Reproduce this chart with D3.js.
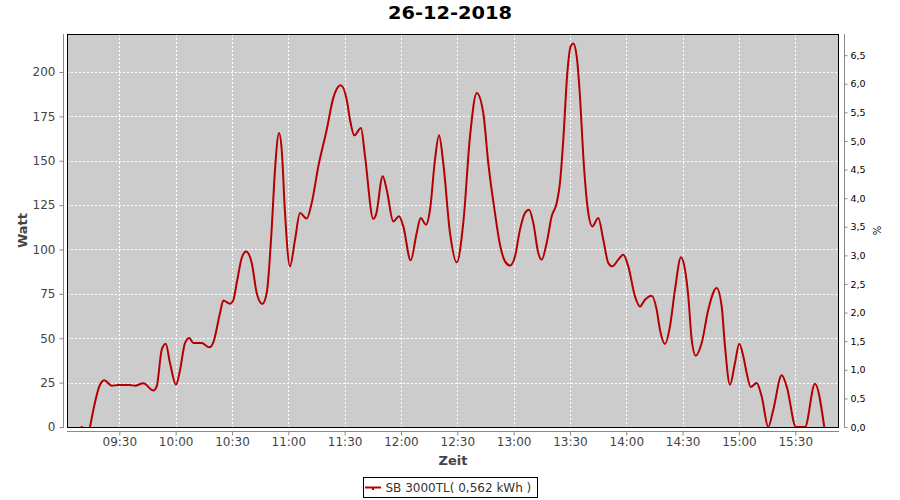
<!DOCTYPE html>
<html><head><meta charset="utf-8">
<script src="https://cdn.jsdelivr.net/npm/d3@7"></script>
<style>body{margin:0;background:#fff}svg{display:block}</style>
</head><body>
<script>
const title = "26-12-2018";
const seriesName = "SB 3000TL( 0,562 kWh )";
const times = ["09:10:00",null,"09:14:24","09:19:43","09:22:01","09:25:57","09:29:19","09:35:42","09:38:22","09:42:47","09:48:07","09:49:55","09:52:35","09:54:43","09:57:00","10:00:11","10:02:19","10:04:59","10:07:17","10:09:25","10:13:53","10:17:56","10:20:04","10:23:38","10:25:23","10:28:57","10:30:43","10:32:31","10:35:11","10:37:28","10:40:31","10:43:10","10:46:09","10:48:30","10:51:10","10:52:55","10:55:03","10:56:29","10:58:14","11:00:54","11:03:34","11:06:14","11:09:48","11:12:28","11:15:59","11:20:27","11:23:58","11:27:54","11:31:06","11:32:52","11:35:09","11:38:43","11:40:51","11:45:16","11:46:42","11:50:16","11:52:24","11:55:55","11:58:57","12:01:14","12:05:11","12:08:22","12:10:30","12:13:20","12:15:28","12:18:07","12:20:15","12:22:32","12:26:07","12:29:41","12:33:11","12:36:46","12:40:20","12:43:50","12:46:30","12:50:04","12:52:44","12:55:24","12:58:04","13:00:43","13:03:23","13:06:03","13:08:11","13:10:28","13:13:08","13:14:56","13:17:36","13:20:16","13:22:56","13:24:41","13:26:27","13:28:35","13:30:23","13:31:46","13:33:35","13:35:20","13:37:06","13:39:46","13:41:53","13:45:05","13:47:45","13:50:25","13:52:32","13:55:44","13:58:24","14:01:04","14:04:38","14:07:17","14:09:57","14:13:31","14:16:11","14:17:56","14:20:37","14:23:16","14:25:56","14:29:08","14:31:16","14:33:01","14:34:50","14:36:58","14:40:09","14:43:40","14:48:08","14:50:48","14:52:34","14:55:13","14:57:53","15:00:11","15:02:19","15:04:07","15:06:15","15:09:26","15:12:07","15:15:37","15:18:17","15:22:45","15:25:25","15:30:22","15:35:10","15:40:29","15:45:26"];
const watts = [0,null,0,23.8,26.3,23.3,23.6,23.6,23.3,24.6,20.6,22.9,43.5,46.9,36,23.8,32,47.3,50.1,47.3,47.3,44.9,47.7,64.2,71.2,69.5,71.5,81.1,95.2,98.9,92.4,75.5,69.3,75.5,112,145,165.6,156.2,120.6,90.5,105.5,120.6,117.4,126.2,146.8,167.5,185.4,192.5,184.4,173.1,164.3,168.5,152.5,117.2,119.6,141.2,133.7,115.8,118.7,113,93.9,109.3,117.7,114,122.4,150.6,164.3,148.7,109.3,92.7,115,163.7,188.2,176.9,148.7,120.5,102.7,93.3,91,96.1,111.2,120.6,122.4,115,98,94.3,103.7,118.7,126.2,137.5,161.9,199.4,214.4,216,208.8,186.3,152.5,120.6,113,117.7,105.5,92.4,90.5,94.3,97.1,90.5,73.6,67.9,71.7,74,66.1,54.8,46.8,56.7,77.4,95.6,88.6,73.6,49.2,40.2,47.3,66.1,78.3,67.9,45.4,23.8,36.1,46.9,39.8,30.4,22.5,24.8,17.2,0,9.7,29.1,22.9,0,0,24.4,0];
const xTickLabels = ["09:30","10:00","10:30","11:00","11:30","12:00","12:30","13:00","13:30","14:00","14:30","15:00","15:30"];
const yTicksLeft = [0,25,50,75,100,125,150,175,200];
const yTicksRight = [0,0.5,1,1.5,2,2.5,3,3.5,4,4.5,5,5.5,6,6.5];
const xDomain = ["09:02:08","15:53:17"];
const leftMax = 221.4, rightMax = 6.87;

const W = 900, H = 500;
const m = {left:67, right:839, top:34, bottom:427};
const parse = d3.timeParse("%H:%M:%S");
const parseHM = d3.timeParse("%H:%M");
const data = times.map((t,i)=>({t: t? parse(t): null, v: watts[i]}));

const svg = d3.select("body").append("svg").attr("width",W).attr("height",H);
const x = d3.scaleTime().domain(xDomain.map(parse)).range([m.left, m.right]);
const y = d3.scaleLinear().domain([0,leftMax]).range([m.bottom, m.top]);
const y2 = d3.scaleLinear().domain([0,rightMax]).range([m.bottom, m.top]);

// plot background
svg.append("rect").attr("x",m.left).attr("y",m.top).attr("width",m.right-m.left).attr("height",m.bottom-m.top).attr("fill","#cccccc");

// grid
const g = svg.append("g").attr("stroke","#fff").attr("stroke-dasharray","2,2").attr("stroke-width",1);
xTickLabels.forEach(s=>{const px=Math.round(x(parseHM(s)))+0.5;
  g.append("line").attr("x1",px).attr("x2",px).attr("y1",m.top).attr("y2",m.bottom);});
yTicksLeft.slice(1).forEach(v=>{const py=Math.round(y(v))+0.5;
  g.append("line").attr("x1",m.left).attr("x2",m.right).attr("y1",py).attr("y2",py);});

// line
const line = d3.line().defined(d=>d.t!==null && d.v!==null).x(d=>x(d.t)).y(d=>y(d.v)).curve(d3.curveMonotoneX);
svg.append("path").datum(data).attr("d",line).attr("fill","none").attr("stroke","#b40000").attr("stroke-width",2).attr("stroke-linecap","square").attr("stroke-linejoin","round");

// border
svg.append("rect").attr("x",m.left+0.5).attr("y",m.top+0.5).attr("width",m.right-m.left-1).attr("height",m.bottom-m.top).attr("fill","none").attr("stroke","#000").attr("stroke-width",1);

const font = "'DejaVu Sans', sans-serif";
// left axis
const la = svg.append("g").attr("transform","translate(63.5,0)")
  .call(d3.axisLeft(y).tickValues(yTicksLeft).tickSize(4).tickPadding(4).tickSizeOuter(0));
la.select(".domain").attr("stroke","#888").attr("d",`M0,${m.top}V${m.bottom+0.5}`);
la.selectAll(".tick line").attr("stroke","#888");
la.selectAll("text").attr("font-family",font).attr("font-size",12).attr("fill","#444");

// right axis
const ra = svg.append("g").attr("transform","translate(844.5,0)")
  .call(d3.axisRight(y2).tickValues(yTicksRight).tickSize(3).tickPadding(3).tickSizeOuter(0).tickFormat(d=>d3.format(".1f")(d).replace(".",",")));
ra.select(".domain").attr("stroke","#888").attr("d",`M0,${m.top}V${m.bottom+0.5}`);
ra.selectAll(".tick line").attr("stroke","#888");
ra.selectAll("text").attr("font-family",font).attr("font-size",9.5).attr("fill","#000");

// x axis
const xa = svg.append("g").attr("transform","translate(0,431.5)")
  .call(d3.axisBottom(x).tickValues(xTickLabels.map(parseHM)).tickSize(4).tickPadding(2).tickSizeOuter(0).tickFormat(d3.timeFormat("%H:%M")));
xa.select(".domain").attr("stroke","#888").attr("d",`M${m.left},0H${m.right}`);
xa.selectAll(".tick line").attr("stroke","#888");
xa.selectAll("text").attr("font-family",font).attr("font-size",12).attr("fill","#444");

// axis labels
svg.append("text").attr("transform",`translate(26.5,${(m.top+m.bottom)/2}) rotate(-90)`).attr("text-anchor","middle")
  .attr("font-family",font).attr("font-weight","bold").attr("font-size",13).attr("fill","#444").text("Watt");
svg.append("text").attr("x",(m.left+m.right)/2).attr("y",465).attr("text-anchor","middle")
  .attr("font-family",font).attr("font-weight","bold").attr("font-size",13).attr("fill","#444").text("Zeit");
svg.append("text").attr("transform",`translate(877,${(m.top+m.bottom)/2}) rotate(-90)`).attr("text-anchor","middle").attr("dominant-baseline","central")
  .attr("font-family",font).attr("font-size",10).attr("fill","#000").text("%");

// title
svg.append("text").attr("x",450).attr("y",18.5).attr("text-anchor","middle").attr("font-family",font)
  .attr("font-weight","bold").attr("font-size",17).attr("textLength",124).attr("lengthAdjust","spacingAndGlyphs").attr("fill","#000").text(title);

// legend
const lg = svg.append("g");
lg.append("rect").attr("x",363.5).attr("y",477.5).attr("width",174).attr("height",20).attr("fill","#fff").attr("stroke","#000");
lg.append("line").attr("x1",365).attr("x2",381).attr("y1",487.5).attr("y2",487.5).attr("stroke","#b40000").attr("stroke-width",2);
lg.append("rect").attr("x",372).attr("y",487).attr("width",2).attr("height",3).attr("fill","#b40000");
lg.append("text").attr("x",385.5).attr("y",491.5).attr("font-family",font).attr("font-size",12).attr("fill","#333").text(seriesName);
</script>
</body></html>
